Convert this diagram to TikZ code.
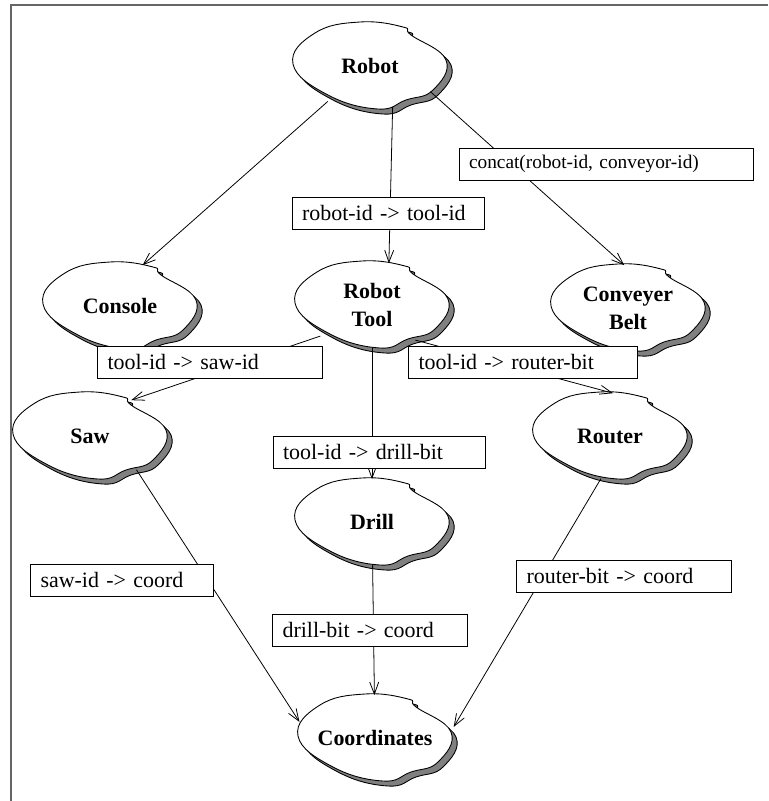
\documentclass[tikz,border=0pt]{standalone}
\usepackage{fontspec}
\setmainfont{Liberation Serif}
\usetikzlibrary{arrows.meta,shapes.geometric}
\begin{document}
\begin{tikzpicture}[x=0.02cm, y=-0.02cm,
    every node/.style={font=\fontsize{12.5}{14}\selectfont},
    cloud/.pic={
        \foreach \d/\c in {5/gray, 0/white}
            \filldraw[fill=\c, draw=black, line width=0.5pt, shift={(\d,\d)}]
                plot[smooth cycle, tension=0.75] coordinates {(-77,-2) (-55,-33) (-10,-44) (33,-39) (41,-31)
                    (76,-6) (63,24) (36,34) (8,43) (-42,29)};
    },
    blobtext/.style={ellipse, minimum width=3cm, minimum height=1.7cm, inner sep=0pt, align=center,
        font=\fontsize{12.5}{16}\selectfont\bfseries},
    tag/.style={draw, fill=white, align=left, inner xsep=0.2cm, inner ysep=0pt, minimum height=0.64cm},
    arr/.style={-{Straight Barb[length=0.24cm, width=0.18cm]}, line width=0.45pt}]
    \useasboundingbox (0,0) rectangle (768,801);
    \draw[gray!80!black, line width=0.04cm] (11,801) -- (11,5) -- (768,5);
    % clouds
    \foreach \nm/\cx/\cy/\txt in {robot/370/66/Robot, console/120/306/Console, tool/372/305/{Robot\\Tool},
        belt/628/308/{Conveyer\\Belt}, saw/90/436/Saw, router/610/436/Router, drill/372/522/Drill,
        coords/375/738/Coordinates} {
        \pic at (\cx,\cy) {cloud};
        \node[blobtext] (\nm) at (\cx,\cy) {\txt};
    }
    % mappings
    \draw[arr] (robot.220) -- (console.61);
    \draw[arr] (robot.299) -- (tool.68);
    \draw[arr] (robot.337) -- (belt.95);
    \draw[arr] (tool.211) -- (saw.41);
    \draw[arr] (tool) -- (drill);
    \draw[arr] (tool.321) -- (router.86);
    \draw[arr] (saw.324) -- (coords.168);
    \draw[arr] (drill) -- (coords);
    \draw[arr] (router.258) -- (coords.8);
    \node[tag, text width=5.48cm, font=\fontsize{11}{13}\selectfont] (concat) at (606,164) {concat(robot-id, conveyor-id)};
    \node[tag, text width=3.44cm] (robot2tool) at (388,213) {robot-id -> tool-id};
    \node[tag, text width=4.1cm] (tool2saw) at (210,362) {tool-id -> saw-id};
    \node[tag, text width=4.18cm] (tool2router) at (523,362) {tool-id -> router-bit};
    \node[tag, text width=3.84cm] (tool2drill) at (379,452) {tool-id -> drill-bit};
    \node[tag, text width=3.26cm] (saw2coord) at (122,580) {saw-id -> coord};
    \node[tag, text width=3.9cm] (router2coord) at (624,576) {router-bit -> coord};
    \node[tag, text width=3.5cm] (drill2coord) at (370,630) {drill-bit -> coord};
\end{tikzpicture}
\end{document}
